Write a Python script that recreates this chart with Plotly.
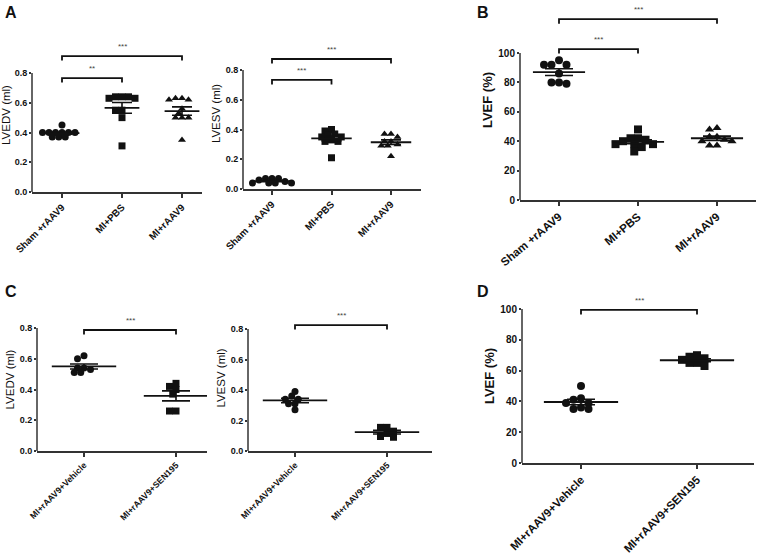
import numpy as np
import plotly.graph_objects as go

W, H = 759, 556

# ---------------- data ----------------
groups_A = ["Sham +rAAV9", "MI+PBS", "MI+rAAV9"]
groups_C = ["MI+rAAV9+Vehicle", "MI+rAAV9+SEN195"]

lvedv_sham = [0.45, 0.40, 0.40, 0.40, 0.40, 0.40, 0.40, 0.37, 0.37, 0.37]
lvedv_pbs = [0.64, 0.63, 0.64, 0.63, 0.64, 0.55, 0.55, 0.50, 0.31]
lvedv_aav = [0.63, 0.62, 0.62, 0.63, 0.56, 0.53, 0.50, 0.50, 0.50, 0.35]

lvesv_sham = [0.07, 0.07, 0.07, 0.06, 0.05, 0.04, 0.04, 0.04, 0.04]
lvesv_pbs = [0.40, 0.37, 0.39, 0.35, 0.36, 0.32, 0.32, 0.33, 0.35, 0.21]
lvesv_aav = [0.37, 0.37, 0.35, 0.32, 0.32, 0.30, 0.29, 0.29, 0.22]

lvef_sham = [95, 92, 92, 92, 86, 80, 79, 80]
lvef_pbs = [48, 42, 42, 40, 38, 38, 38, 36, 33, 41]
lvef_aav = [49, 48, 40, 40, 43, 43, 37, 37, 41]

c_lvedv_veh = [0.62, 0.60, 0.54, 0.54, 0.53, 0.51, 0.51]
c_lvedv_sen = [0.44, 0.42, 0.40, 0.37, 0.26, 0.26]
c_lvesv_veh = [0.39, 0.36, 0.34, 0.31, 0.31, 0.27, 0.34]
c_lvesv_sen = [0.155, 0.155, 0.13, 0.095, 0.09, 0.115]

d_lvef_veh = [50, 42, 41, 39, 39, 36, 35, 35]
d_lvef_sen = [68, 70, 65, 65, 63, 67, 69]

ticks_ml = [0.0, 0.2, 0.4, 0.6, 0.8]
ticks_pct = [0, 20, 40, 60, 80, 100]

# brackets: (from group, to group, level, label)
br_A1 = [(0, 2, 0.914, "***"), (0, 1, 0.766, "**")]
br_A2 = [(0, 2, 0.874, "***"), (0, 1, 0.733, "***")]
br_B = [(0, 2, 123, "***"), (0, 1, 102.7, "***")]
br_C1 = [(0, 1, 0.787, "***")]
br_C2 = [(0, 1, 0.826, "***")]
br_D = [(0, 1, 99.4, "***")]

FONT = "Liberation Sans, Arial, sans-serif"
BLACK = "#111111"
AX = "#333333"

panels = [
    dict(cats=groups_A, series=[lvedv_sham, lvedv_pbs, lvedv_aav],
         sym=["circle", "square", "triangle-up"], title="LVEDV (ml)",
         ticks=ticks_ml, fmt="{:.1f}", xpx=(32, 202, 62, 182), ypx=(192, 73, 0.8, 38),
         br=br_A1, tfs=9, cfs=9.8, ang=-45, ttfs=11.5, tbold=False, ms=7, mhw=0.29, chw=10),
    dict(cats=groups_A, series=[lvesv_sham, lvesv_pbs, lvesv_aav],
         sym=["circle", "square", "triangle-up"], title="LVESV (ml)",
         ticks=ticks_ml, fmt="{:.1f}", xpx=(243, 421, 272, 391), ypx=(189, 70, 0.8, 38),
         br=br_A2, tfs=9, cfs=9.8, ang=-45, ttfs=11.5, tbold=False, ms=7, mhw=0.34, chw=10),
    dict(cats=groups_A, series=[lvef_sham, lvef_pbs, lvef_aav],
         sym=["circle", "square", "triangle-up"], title="LVEF (%)",
         ticks=ticks_pct, fmt="{:d}", xpx=(520, 756, 559, 717), ypx=(200, 53, 100, 0),
         br=br_B, tfs=10, cfs=11.5, ang=-40, ttfs=13, tbold=True, ms=8, mhw=0.33, chw=14),
    dict(cats=groups_C, series=[c_lvedv_veh, c_lvedv_sen],
         sym=["circle", "square"], title="LVEDV (ml)",
         ticks=ticks_ml, fmt="{:.1f}", xpx=(37, 207, 84, 176), ypx=(451, 328, 0.8, 308),
         br=br_C1, tfs=9, cfs=8.7, ang=-45, ttfs=11.5, tbold=False, ms=7, mhw=0.35, chw=14),
    dict(cats=groups_C, series=[c_lvesv_veh, c_lvesv_sen],
         sym=["circle", "square"], title="LVESV (ml)",
         ticks=ticks_ml, fmt="{:.1f}", xpx=(248, 432, 295, 387), ypx=(451, 329, 0.8, 305),
         br=br_C2, tfs=9, cfs=8.7, ang=-45, ttfs=11.5, tbold=False, ms=7, mhw=0.35, chw=14),
    dict(cats=groups_C, series=[d_lvef_veh, d_lvef_sen],
         sym=["circle", "square"], title="LVEF (%)",
         ticks=ticks_pct, fmt="{:d}", xpx=(522, 754, 581, 697), ypx=(463, 309, 100, 289),
         br=br_D, tfs=10, cfs=11.4, ang=-45, ttfs=13, tbold=True, ms=8, mhw=0.32, chw=14),
]


def swarm(vals, ppu_y, ppu_x, d):
    vals = np.asarray(vals, dtype=float)
    order = np.argsort(-vals, kind="stable")
    placed = []
    offs = np.zeros(len(vals))
    cands = [0.0]
    for j in range(1, 16):
        cands += [-j * d / 2, j * d / 2]
    for i in order:
        y = vals[i] * ppu_y
        for c in cands:
            ok = all((c - px) ** 2 + (y - py) ** 2 >= (0.8 * d) ** 2 for px, py in placed)
            if ok:
                placed.append((c, y))
                offs[i] = c / ppu_x
                break
    return offs


fig = go.Figure()
layout = dict(width=W, height=H, margin=dict(l=0, r=0, t=0, b=0, autoexpand=False),
              paper_bgcolor="white", plot_bgcolor="white", showlegend=False,
              font=dict(family=FONT, color=BLACK))
shapes, annotations = [], []

for k, p in enumerate(panels):
    n = len(p["cats"])
    x0px, x1px, c0px, clpx = p["xpx"]
    sp = (clpx - c0px) / (n - 1)
    xr = [(x0px - c0px) / sp, (x1px - c0px) / sp]
    y0px, ympx, vmax, toppx = p["ypx"]
    ppu = (y0px - ympx) / vmax
    ytop = (y0px - toppx) / ppu
    sfx = "" if k == 0 else str(k + 1)
    xa, ya = "x" + sfx, "y" + sfx
    layout["xaxis" + sfx] = dict(
        domain=[x0px / W, x1px / W], range=xr, anchor=ya, automargin=False,
        showline=True, linewidth=1.5, linecolor=AX, ticks="outside", ticklen=4,
        tickwidth=1.5, tickcolor=AX, tickvals=list(range(n)), ticktext=p["cats"],
        tickangle=p["ang"], showgrid=False, zeroline=False,
        tickfont=dict(size=p["cfs"], family=FONT, color=BLACK, weight="bold"))
    layout["yaxis" + sfx] = dict(
        domain=[1 - y0px / H, 1 - toppx / H], range=[0, ytop], anchor=xa, automargin=False,
        showline=False, ticks="outside", ticklen=2, tickwidth=1.5, tickcolor=AX,
        tickvals=p["ticks"], ticktext=[p["fmt"].format(t) for t in p["ticks"]],
        showgrid=False, zeroline=False,
        tickfont=dict(size=p["tfs"], family=FONT, color=BLACK, weight="bold"),
        title=dict(text=p["title"], standoff=2,
                   font=dict(size=p["ttfs"], family=FONT, color=BLACK,
                             weight="bold" if p["tbold"] else "normal")))
    # y axis line up to last tick
    shapes.append(dict(type="line", xref=xa + " domain", yref=ya, x0=0, x1=0,
                       y0=0, y1=p["ticks"][-1], line=dict(color=AX, width=1.5)))

    for g, vals in enumerate(p["series"]):
        offs = swarm(vals, ppu, sp, p["ms"] - 0.5)
        fig.add_trace(go.Scatter(
            x=g + offs, y=vals, mode="markers", xaxis=xa, yaxis=ya,
            marker=dict(symbol=p["sym"][g], size=p["ms"], color=BLACK, line=dict(width=0)),
            cliponaxis=False, hoverinfo="y"))
        m = float(np.mean(vals))
        sem = float(np.std(vals, ddof=1) / np.sqrt(len(vals)))
        fig.add_trace(go.Scatter(
            x=[g], y=[m], mode="markers", xaxis=xa, yaxis=ya,
            marker=dict(size=1, color="rgba(0,0,0,0)"),
            error_y=dict(type="data", array=[sem], width=p["chw"], thickness=1.6,
                         color=BLACK), cliponaxis=False, hoverinfo="skip"))
        shapes.append(dict(type="line", xref=xa, yref=ya, x0=g - p["mhw"], x1=g + p["mhw"],
                           y0=m, y1=m, line=dict(color=BLACK, width=1.8)))

    tick_d = 4.5 / ppu
    for (a, b, lev, lab) in p["br"]:
        shapes.append(dict(type="path", xref=xa, yref=ya,
                           path=f"M {a},{lev - tick_d} L {a},{lev} L {b},{lev} L {b},{lev - tick_d}",
                           line=dict(color=BLACK, width=1.8)))
        annotations.append(dict(x=(a + b) / 2, y=lev, xref=xa, yref=ya, text=lab,
                                showarrow=False, yanchor="bottom", yshift=3,
                                font=dict(size=8, color="#444444", family=FONT)))

letters = [("A", 3, 13), ("B", 475, 13), ("C", 3, 291), ("D", 475, 291)]
for t, lx, ly in letters:
    annotations.append(dict(x=lx / W, y=1 - ly / H, xref="paper", yref="paper", text=t,
                            showarrow=False, xanchor="left", yanchor="middle",
                            font=dict(size=16, family=FONT, color=BLACK, weight="bold")))

layout["shapes"] = shapes
layout["annotations"] = annotations
fig.update_layout(**layout)
fig.write_html("out.html", config={"displayModeBar": False},
               post_script="document.body.style.margin='0';document.body.style.overflow='hidden';")
